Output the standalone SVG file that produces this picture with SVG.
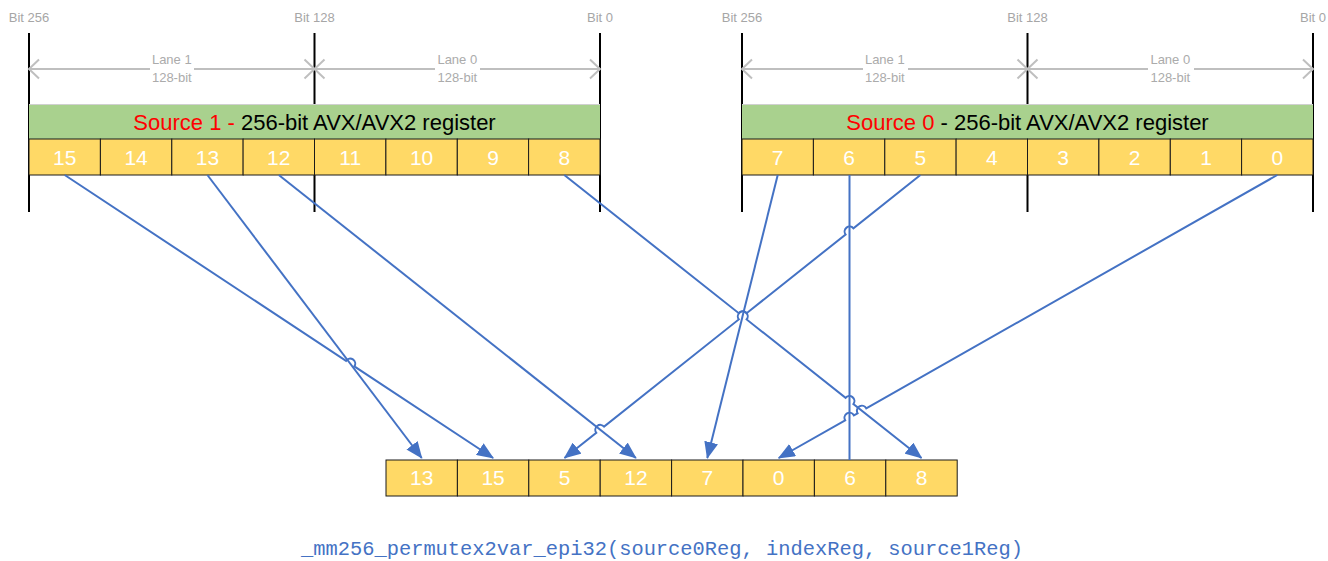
<svg xmlns="http://www.w3.org/2000/svg" width="1328" height="561" viewBox="0 0 1328 561">
  <style>
    .bitlbl { font-family: "Liberation Sans", Arial, sans-serif; font-size: 13px; fill: #A6A6A6; text-anchor: middle; }
    .lane { font-family: "Liberation Sans", Arial, sans-serif; font-size: 13px; fill: #ABABAB; text-anchor: middle; }
    .title { font-family: "Liberation Sans", Arial, sans-serif; font-size: 22px; fill: #000; text-anchor: middle; }
    .red { fill: #FF0000; }
    .num { font-family: "Liberation Sans", Arial, sans-serif; font-size: 21px; fill: #FFFFFF; text-anchor: middle; }
    .cell { fill: #FFD966; stroke: #1A1A1A; stroke-width: 1; }
    .bar { fill: #A9D18E; }
    .tick { stroke: #000; stroke-width: 2; }
    .dim { stroke: #BFBFBF; stroke-width: 2; fill: none; }
    .gap { fill: #FFFFFF; }
    .wire { stroke: #4472C4; stroke-width: 2; fill: none; }
    .code { font-family: "Liberation Mono", "Courier New", monospace; font-size: 20.4px; fill: #4472C4; text-anchor: middle; }
  </style>
  <defs>
    <marker id="head" markerUnits="userSpaceOnUse" viewBox="0 0 17 14" markerWidth="17" markerHeight="14" refX="16" refY="7" orient="auto">
      <path d="M0,0 L17,7 L0,14 z" fill="#4472C4"/>
    </marker>
  </defs>

  <!-- Source 1 register (left) -->
  <g id="source1">
    <line class="tick" x1="29" y1="33" x2="29" y2="212"/>
    <line class="tick" x1="314.5" y1="33" x2="314.5" y2="212"/>
    <line class="tick" x1="600" y1="33" x2="600" y2="212"/>
    <text class="bitlbl" x="29" y="22">Bit 256</text>
    <text class="bitlbl" x="314.5" y="22">Bit 128</text>
    <text class="bitlbl" x="600" y="22">Bit 0</text>
    <line class="dim" x1="29" y1="69" x2="600" y2="69"/>
    <polyline class="dim" points="39,59.5 29,69 39,78.5"/>
    <polyline class="dim" points="304.5,59.5 314.5,69 304.5,78.5"/>
    <polyline class="dim" points="324.5,59.5 314.5,69 324.5,78.5"/>
    <polyline class="dim" points="590,59.5 600,69 590,78.5"/>
    <rect class="gap" x="150" y="63" width="44" height="12"/>
    <rect class="gap" x="435" y="63" width="45" height="12"/>
    <text class="lane" x="171.8" y="64">Lane 1</text>
    <text class="lane" x="171.8" y="82">128-bit</text>
    <text class="lane" x="457.3" y="64">Lane 0</text>
    <text class="lane" x="457.3" y="82">128-bit</text>
    <rect class="bar" x="29" y="104" width="571" height="35"/>
    <line x1="29" y1="104.5" x2="600" y2="104.5" stroke="#D0D0D0" stroke-width="1"/>
    <text class="title" x="314.5" y="130"><tspan class="red">Source 1 -</tspan> 256-bit AVX/AVX2 register</text>
    <rect class="cell" x="29" y="139" width="71.4" height="36"/>
    <rect class="cell" x="100.4" y="139" width="71.4" height="36"/>
    <rect class="cell" x="171.8" y="139" width="71.4" height="36"/>
    <rect class="cell" x="243.1" y="139" width="71.4" height="36"/>
    <rect class="cell" x="314.5" y="139" width="71.4" height="36"/>
    <rect class="cell" x="385.9" y="139" width="71.4" height="36"/>
    <rect class="cell" x="457.3" y="139" width="71.4" height="36"/>
    <rect class="cell" x="528.6" y="139" width="71.4" height="36"/>
    <text class="num" x="64.7" y="165">15</text>
    <text class="num" x="136.1" y="165">14</text>
    <text class="num" x="207.4" y="165">13</text>
    <text class="num" x="278.8" y="165">12</text>
    <text class="num" x="350.2" y="165">11</text>
    <text class="num" x="421.6" y="165">10</text>
    <text class="num" x="493" y="165">9</text>
    <text class="num" x="564.3" y="165">8</text>
  </g>

  <!-- Source 0 register (right) -->
  <g id="source0">
    <line class="tick" x1="742" y1="33" x2="742" y2="212"/>
    <line class="tick" x1="1027.5" y1="33" x2="1027.5" y2="212"/>
    <line class="tick" x1="1313" y1="33" x2="1313" y2="212"/>
    <text class="bitlbl" x="742" y="22">Bit 256</text>
    <text class="bitlbl" x="1027.5" y="22">Bit 128</text>
    <text class="bitlbl" x="1313" y="22">Bit 0</text>
    <line class="dim" x1="742" y1="69" x2="1313" y2="69"/>
    <polyline class="dim" points="752,59.5 742,69 752,78.5"/>
    <polyline class="dim" points="1017.5,59.5 1027.5,69 1017.5,78.5"/>
    <polyline class="dim" points="1037.5,59.5 1027.5,69 1037.5,78.5"/>
    <polyline class="dim" points="1303,59.5 1313,69 1303,78.5"/>
    <rect class="gap" x="863" y="63" width="45" height="12"/>
    <rect class="gap" x="1148" y="63" width="46" height="12"/>
    <text class="lane" x="884.8" y="64">Lane 1</text>
    <text class="lane" x="884.8" y="82">128-bit</text>
    <text class="lane" x="1170.3" y="64">Lane 0</text>
    <text class="lane" x="1170.3" y="82">128-bit</text>
    <rect class="bar" x="742" y="104" width="571" height="35"/>
    <line x1="742" y1="104.5" x2="1313" y2="104.5" stroke="#D0D0D0" stroke-width="1"/>
    <text class="title" x="1027.5" y="130"><tspan class="red">Source 0</tspan> - 256-bit AVX/AVX2 register</text>
    <rect class="cell" x="742" y="139" width="71.4" height="36"/>
    <rect class="cell" x="813.4" y="139" width="71.4" height="36"/>
    <rect class="cell" x="884.8" y="139" width="71.4" height="36"/>
    <rect class="cell" x="956.1" y="139" width="71.4" height="36"/>
    <rect class="cell" x="1027.5" y="139" width="71.4" height="36"/>
    <rect class="cell" x="1098.9" y="139" width="71.4" height="36"/>
    <rect class="cell" x="1170.3" y="139" width="71.4" height="36"/>
    <rect class="cell" x="1241.6" y="139" width="71.4" height="36"/>
    <text class="num" x="777.7" y="165">7</text>
    <text class="num" x="849.1" y="165">6</text>
    <text class="num" x="920.4" y="165">5</text>
    <text class="num" x="991.8" y="165">4</text>
    <text class="num" x="1063.2" y="165">3</text>
    <text class="num" x="1134.6" y="165">2</text>
    <text class="num" x="1206" y="165">1</text>
    <text class="num" x="1277.3" y="165">0</text>
  </g>

  <!-- Result register -->
  <g id="result">
    <rect class="cell" x="386" y="460" width="71.4" height="36"/>
    <rect class="cell" x="457.4" y="460" width="71.4" height="36"/>
    <rect class="cell" x="528.8" y="460" width="71.4" height="36"/>
    <rect class="cell" x="600.2" y="460" width="71.4" height="36"/>
    <rect class="cell" x="671.6" y="460" width="71.4" height="36"/>
    <rect class="cell" x="743" y="460" width="71.4" height="36"/>
    <rect class="cell" x="814.4" y="460" width="71.4" height="36"/>
    <rect class="cell" x="885.8" y="460" width="71.4" height="36"/>
    <text class="num" x="421.7" y="485">13</text>
    <text class="num" x="493.1" y="485">15</text>
    <text class="num" x="564.5" y="485">5</text>
    <text class="num" x="635.9" y="485">12</text>
    <text class="num" x="707.3" y="485">7</text>
    <text class="num" x="778.7" y="485">0</text>
    <text class="num" x="850.1" y="485">6</text>
    <text class="num" x="921.5" y="485">8</text>
  </g>

  <!-- Permutation wires, with hop-overs at crossings -->
  <g id="connectors">
    <!-- 15 -> slot 1 -->
    <path class="wire" marker-end="url(#head)" d="M64.7,175 L346.03,360.84 A5,5 0 0 1 354.37,366.36 L493.1,458"/>
    <!-- 13 -> slot 0 -->
    <path class="wire" marker-end="url(#head)" d="M207.4,175 L421.7,458"/>
    <!-- 12 -> slot 3 -->
    <path class="wire" marker-end="url(#head)" d="M278.8,175 L635.9,458"/>
    <!-- 8 -> slot 7 -->
    <path class="wire" marker-end="url(#head)" d="M564.3,175 L738.78,313.2 A5,5 0 0 1 746.62,319.41 L845.58,397.8 A5,5 0 0 1 853.42,404.0 L921.5,458"/>
    <!-- 7 -> slot 4 -->
    <path class="wire" marker-end="url(#head)" d="M777.7,175 L707.3,458"/>
    <!-- 6 -> slot 6 -->
    <path class="wire" d="M849.5,175 L849.5,460"/>
    <!-- 5 -> slot 2 -->
    <path class="wire" marker-end="url(#head)" d="M920.4,175 L853.41,228.29 A5,5 0 0 0 845.59,234.51 L746.61,313.19 A5,5 0 0 0 738.79,319.41 L604.11,426.59 A5,5 0 0 0 596.29,432.81 L564.5,458"/>
    <!-- 0 -> slot 5 -->
    <path class="wire" marker-end="url(#head)" d="M1277.3,175 L866.25,408.33 A5,5 0 0 0 857.55,413.27 L853.85,415.33 A5,5 0 0 0 845.15,420.27 L778.7,458"/>
  </g>

  <text id="caption" class="code" x="662" y="555">_mm256_permutex2var_epi32(source0Reg, indexReg, source1Reg)</text>
</svg>
